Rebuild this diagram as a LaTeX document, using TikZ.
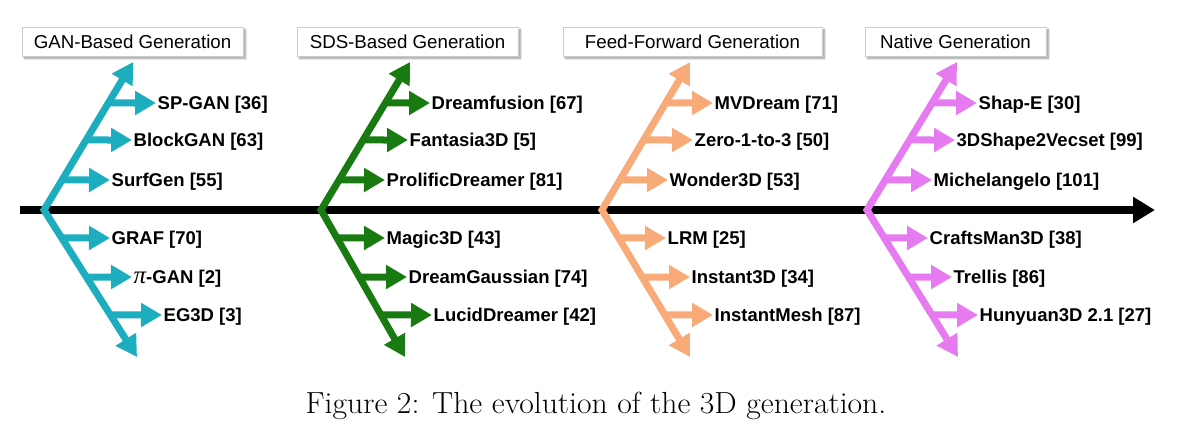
\documentclass[tikz,border=0pt]{standalone}
\usepackage{fontspec}
\setsansfont{Liberation Sans}
\newfontfamily\pifont{Liberation Serif}
\usetikzlibrary{arrows.meta,calc,shadows.blur}
\definecolor{cgan}{RGB}{28,173,190}
\definecolor{csds}{RGB}{26,122,18}
\definecolor{cff}{RGB}{248,170,120}
\definecolor{cnat}{RGB}{230,122,240}
\tikzset{
  mainaxis/.style={line width=8pt, -{Triangle[length=22pt,width=25pt]}},
  branch/.style={line width=7pt, line join=miter, {Triangle[length=21pt,width=23pt]}-{Triangle[length=21pt,width=23pt]}},
  sub/.style={line width=7pt, -{Triangle[length=21pt,width=23pt]}},
  lbl/.style={anchor=west, font=\sffamily\bfseries\fontsize{18.5}{20}\selectfont, inner xsep=1.5pt, inner ysep=0pt, text height=13pt, text depth=0pt},
  hdr/.style={draw=black!20, line width=0.6pt, fill=white, font=\sffamily\fontsize{18.7}{20}\selectfont,
    minimum height=29pt, inner sep=0pt, text height=13.4pt, text depth=0pt,
    blur shadow={shadow xshift=2.5pt, shadow yshift=-2.5pt, shadow blur radius=2pt, shadow blur steps=6, shadow opacity=40}},
  captext/.style={anchor=base, font=\fontsize{30.5}{34}\selectfont, inner sep=0pt, xscale=1.038}
}
\begin{document}
\begin{tikzpicture}[x=1pt,y=-1pt]
\useasboundingbox (0,0) rectangle (1184,442);
% headers
\node[hdr, minimum width=221pt] (hgan) at (132.5,41.5) {GAN-Based Generation};
\node[hdr, minimum width=221pt] (hsds) at (407.5,41.5) {SDS-Based Generation};
\node[hdr, minimum width=259pt] (hff) at (692.5,41.5) {Feed-Forward Generation};
\node[hdr, minimum width=181pt] (hnat) at (955.5,41.5) {Native Generation};
% main axis
\coordinate (ax0) at (20,210);
\coordinate (ax1) at (1155,210);
\draw[mainaxis] (ax0) -- (ax1);
% branch coordinates
\coordinate (gv) at (44,210); \coordinate (gt) at (133,62); \coordinate (gb) at (137,357);
\coordinate (sv) at (321,210); \coordinate (st) at (410,62); \coordinate (sb) at (405,357);
\coordinate (fv) at (602,210); \coordinate (ft) at (690,62); \coordinate (fb) at (690,357);
\coordinate (nv) at (867,210); \coordinate (nt) at (957,62); \coordinate (nb) at (958,357);
\draw[branch, cgan] (gt) -- (gv) -- (gb);
\draw[branch, csds] (st) -- (sv) -- (sb);
\draw[branch, cff] (ft) -- (fv) -- (fb);
\draw[branch, cnat] (nt) -- (nv) -- (nb);
% GAN
\foreach \nm/\e/\f/\tx/\yy/\txt in {
  g1/gt/0.723/156/103/{SP-GAN [36]},
  g2/gt/0.473/132/140/{BlockGAN [63]},
  g3/gt/0.203/110/180/{SurfGen [55]},
  g4/gb/0.190/110/238/{GRAF [70]},
  g5/gb/0.456/132/277/{{\pifont\mdseries\itshape\fontsize{25}{25}\selectfont π}-GAN [2]},
  g6/gb/0.714/162/315/{EG3D [3]}}{
  \node[lbl] (\nm) at (\tx,\yy) {\txt};
  \draw[sub, cgan] ($(gv)!\f!(\e)$) -- (\nm.west);
}
% SDS
\foreach \nm/\e/\f/\tx/\yy/\txt in {
  s1/st/0.723/430/103/{Dreamfusion [67]},
  s2/st/0.473/408/140/{Fantasia3D [5]},
  s3/st/0.203/385/180/{ProlificDreamer [81]},
  s4/sb/0.190/385/238/{Magic3D [43]},
  s5/sb/0.456/407/277/{DreamGaussian [74]},
  s6/sb/0.714/432/315/{LucidDreamer [42]}}{
  \node[lbl] (\nm) at (\tx,\yy) {\txt};
  \draw[sub, csds] ($(sv)!\f!(\e)$) -- (\nm.west);
}
% Feed-forward
\foreach \nm/\e/\f/\tx/\yy/\txt in {
  f1/ft/0.723/713/103/{MVDream [71]},
  f2/ft/0.473/693/140/{Zero-1-to-3 [50]},
  f3/ft/0.203/668/180/{Wonder3D [53]},
  f4/fb/0.190/666/238/{LRM [25]},
  f5/fb/0.456/690/277/{Instant3D [34]},
  f6/fb/0.714/713/315/{InstantMesh [87]}}{
  \node[lbl] (\nm) at (\tx,\yy) {\txt};
  \draw[sub, cff] ($(fv)!\f!(\e)$) -- (\nm.west);
}
% Native
\foreach \nm/\e/\f/\tx/\yy/\txt in {
  n1/nt/0.723/977/103/{Shap-E [30]},
  n2/nt/0.473/955/140/{3DShape2Vecset [99]},
  n3/nt/0.203/932/180/{Michelangelo [101]},
  n4/nb/0.190/928/238/{CraftsMan3D [38]},
  n5/nb/0.456/952/277/{Trellis [86]},
  n6/nb/0.714/978/315/{Hunyuan3D 2.1 [27]}}{
  \node[lbl] (\nm) at (\tx,\yy) {\txt};
  \draw[sub, cnat] ($(nv)!\f!(\e)$) -- (\nm.west);
}
% caption
\node[captext] (caption) at (596,413) {Figure 2: The evolution of the 3D generation.};
\end{tikzpicture}
\end{document}
